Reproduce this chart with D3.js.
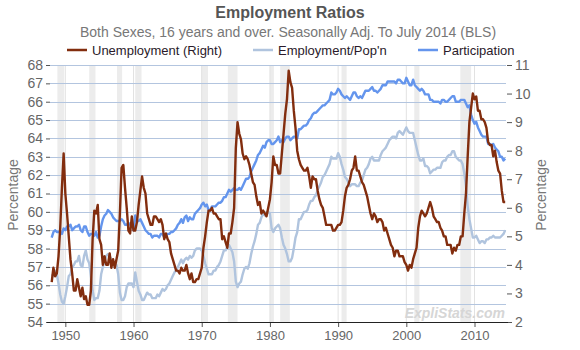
<!DOCTYPE html>
<html><head><meta charset="utf-8">
<script src="https://cdn.jsdelivr.net/npm/d3@7"></script>
<style>body{margin:0;background:#fff}svg{display:block}text{font-family:Arial,"Liberation Sans",sans-serif}</style>
</head><body>
<svg id="chart" width="580" height="350"></svg>
<script>
// ---- Data (quarterly samples: Jan, Apr, Jul, Oct; 1948 Q1 .. 2014 Q3) ----
const startYear = 1948;
const unemployment = [
3.4,3.9,3.6,3.7, 4.3,5.3,6.7,7.9, 6.5,5.8,5.0,4.2, 3.7,3.1,3.1,3.5, 3.2,2.9,3.2,2.8,
2.9,2.6,2.6,3.1, 4.9,5.9,5.8,6.1, 4.9,4.7,4.0,4.3, 4.0,4.0,4.4,3.9, 4.2,3.9,4.2,4.5,
5.8,7.4,7.5,6.7, 6.0,5.2,5.1,5.7, 5.2,5.2,5.5,6.1, 6.6,7.1,6.7,6.5, 5.8,5.6,5.4,5.4,
5.7,5.7,5.6,5.5, 5.6,5.4,4.9,5.1, 4.9,4.8,4.4,4.2, 4.0,3.8,3.8,3.7, 3.9,3.8,3.8,4.0,
3.7,3.5,3.7,3.4, 3.4,3.5,3.5,3.7, 3.9,4.6,5.0,5.5, 5.9,5.9,6.0,5.8, 5.8,5.7,5.6,5.6,
4.9,5.0,4.8,4.6, 5.1,5.1,5.5,6.0, 8.1,9.0,8.6,8.4, 7.9,7.7,7.8,7.7, 7.5,7.2,6.9,6.8,
6.4,6.1,6.2,5.8, 5.9,5.8,5.7,6.0, 6.3,6.9,7.8,7.5, 7.5,7.2,7.2,7.9, 8.6,9.3,9.8,10.8,
10.4,10.2,9.4,8.8, 8.0,7.7,7.5,7.4, 7.3,7.3,7.4,7.1, 6.7,7.1,7.0,7.0, 6.6,6.3,6.1,6.0,
5.7,5.4,5.4,5.4, 5.4,5.2,5.2,5.3, 5.4,5.4,5.5,5.9, 6.4,6.7,6.8,7.0, 7.3,7.4,7.8,7.3,
7.3,7.1,6.9,6.8, 6.6,6.4,6.1,5.8, 5.6,5.8,5.7,5.5, 5.6,5.6,5.5,5.2, 5.3,5.1,4.9,4.7,
4.6,4.3,4.5,4.5, 4.3,4.3,4.3,4.1, 4.0,3.8,4.0,3.9, 4.2,4.4,4.6,5.3, 5.7,5.9,5.8,5.7,
5.8,6.0,6.2,6.0, 5.7,5.6,5.5,5.5, 5.3,5.2,5.0,5.0, 4.7,4.7,4.7,4.4, 4.6,4.5,4.7,4.7,
5.0,5.0,5.8,6.5, 7.8,9.0,9.5,10.0, 9.8,9.9,9.4,9.4, 9.1,9.1,9.0,8.8, 8.3,8.2,8.2,7.8,
8.0,7.6,7.3,7.2, 6.6,6.2,6.2];
const employmentPop = [
56.6,56.5,56.8,56.6, 56.1,55.5,55.1,55.0, 55.4,55.9,56.5,56.6, 57.0,57.1,57.3,57.3, 57.6,57.1,57.0,57.6,
57.9,57.4,57.2,56.5, 55.7,55.2,55.3,55.3, 55.7,56.6,57.0,57.3, 57.6,57.7,57.6,57.4, 57.3,57.2,57.1,56.6,
55.6,55.2,55.2,55.4, 55.9,56.1,56.1,56.1, 55.9,56.7,56.2,55.7, 55.5,55.2,55.2,55.4, 55.6,55.5,55.5,55.3,
55.3,55.3,55.5,55.4, 55.6,55.8,55.7,55.8, 56.0,56.1,56.3,56.5, 56.7,56.8,57.0,57.2, 57.4,57.2,57.4,57.5,
57.4,57.6,57.5,57.6, 57.9,58.0,58.0,58.0, 57.9,57.6,57.2,56.9, 56.6,56.6,56.6,56.8, 56.8,57.0,57.1,57.3,
57.6,57.9,57.9,58.1, 58.2,58.0,57.8,57.3, 56.2,55.9,56.1,56.2, 56.6,56.9,57.0,56.9, 57.2,57.7,58.1,58.4,
58.8,59.3,59.4,59.7, 59.9,59.8,60.0,60.0, 59.9,59.1,58.9,59.1, 59.2,59.3,59.1,58.6, 58.2,58.0,57.7,57.3,
57.3,57.5,58.0,58.6, 58.9,59.6,59.6,59.8, 60.0,60.0,60.1,60.4, 60.6,60.6,60.8,60.9, 61.2,61.4,61.6,61.9,
62.0,62.2,62.4,62.6, 63.0,62.9,62.9,62.9, 63.2,63.0,62.6,62.3, 61.9,61.8,61.6,61.4, 61.5,61.5,61.5,61.4,
61.4,61.6,61.7,62.0, 62.3,62.4,62.6,62.9, 63.0,62.8,62.8,62.8, 62.8,63.1,63.3,63.4, 63.5,63.7,63.9,64.0,
64.1,64.1,64.0,64.3, 64.4,64.3,64.2,64.4, 64.6,64.4,64.3,64.3, 64.3,63.9,63.5,63.1, 62.8,62.8,62.9,62.5,
62.5,62.4,62.1,62.2, 62.3,62.3,62.4,62.4, 62.4,62.7,62.8,62.8, 63.0,63.1,63.1,63.3, 63.3,63.0,62.9,62.8,
62.8,62.6,62.1,61.4, 60.3,59.6,59.1,58.6, 58.6,58.7,58.5,58.3, 58.4,58.4,58.3,58.5, 58.5,58.6,58.6,58.7,
58.6,58.6,58.6,58.6, 58.7,58.8,59.0];
const participation = [
58.6,58.9,59.0,58.9, 58.9,58.9,58.8,59.1, 59.0,59.2,59.2,59.3, 59.0,59.1,59.2,59.2, 59.3,59.0,58.9,59.2,
59.2,58.9,58.7,58.8, 58.8,58.7,58.9,58.6, 58.7,59.2,59.6,59.8, 59.9,60.1,60.0,59.9, 59.7,59.6,59.5,59.5,
59.5,59.6,59.5,59.3, 59.3,59.4,59.3,59.4, 59.0,59.8,59.5,59.5, 59.6,59.4,59.2,59.0, 58.9,58.8,58.8,58.6,
58.7,58.7,58.7,58.6, 58.8,58.8,58.6,58.7, 58.8,58.8,58.9,58.9, 59.0,59.1,59.3,59.4, 59.6,59.4,59.7,59.8,
59.5,59.7,59.6,59.6, 59.9,60.0,60.1,60.2, 60.4,60.5,60.3,60.4, 60.1,60.1,60.3,60.3, 60.3,60.4,60.5,60.5,
60.6,60.8,60.8,61.0, 61.2,61.1,61.2,61.3, 61.2,61.2,61.3,61.2, 61.4,61.6,61.8,61.8, 61.9,62.2,62.4,62.6,
62.8,63.1,63.2,63.4, 63.6,63.5,63.8,63.9, 63.9,63.7,63.7,63.8, 63.9,64.1,63.8,63.9, 63.8,64.0,64.1,64.1,
63.9,64.0,64.1,64.1, 64.0,64.5,64.5,64.6, 64.7,64.7,64.8,65.0, 65.1,65.3,65.4,65.4, 65.5,65.6,65.7,65.8,
65.8,65.9,66.0,66.1, 66.5,66.4,66.4,66.5, 66.7,66.6,66.4,66.3, 66.2,66.3,66.2,66.1, 66.3,66.5,66.5,66.3,
66.2,66.3,66.2,66.4, 66.6,66.6,66.6,66.7, 66.8,66.6,66.6,66.5, 66.6,66.7,66.9,66.9, 66.9,67.1,67.1,67.1,
67.1,67.1,67.0,67.2, 67.2,67.1,67.0,67.0, 67.3,67.1,66.9,66.9, 67.2,66.9,66.8,66.7, 66.6,66.7,66.6,66.4,
66.4,66.4,66.1,66.1, 66.0,66.0,66.0,66.0, 65.9,66.1,66.1,66.0, 66.0,66.1,66.2,66.3, 66.3,66.0,66.0,66.0,
66.1,66.1,66.1,65.9, 65.7,65.8,65.3,65.0, 64.8,64.9,64.6,64.4, 64.2,64.1,64.1,64.1, 63.7,63.7,63.6,63.7,
63.5,63.4,63.3,63.0, 63.0,62.8,62.9];
// NBER recessions [start, end] in decimal years
const recessions = [[1948.83,1949.83],[1953.5,1954.42],[1957.58,1958.33],[1960.25,1961.17],
  [1969.92,1970.92],[1973.83,1975.25],[1980.0,1980.58],[1981.5,1982.92],[1990.5,1991.25],
  [2001.17,2001.92],[2007.92,2009.5]];
const xTicks = [1950,1960,1970,1980,1990,2000,2010];
const leftTicks = d3.range(54, 69);
const rightTicks = d3.range(2, 12);
const seriesNames = ["Unemployment (Right)", "Employment/Pop'n", "Participation"];
const seriesColors = ["#822d0e", "#b0c4de", "#6495ed"];

// ---- Layout ----
const svg = d3.select("#chart");
const L = 50, R = 506, T = 65, B = 322;
const x = d3.scaleLinear().domain([1948, 2014.5]).range([51.7, 505.2]);
const yL = d3.scaleLinear().domain([54, 68]).range([B, T]);
const yR = d3.scaleLinear().domain([2, 11]).range([B, T]);
const dates = unemployment.map((d, i) => startYear + i / 4);

// recession bands
svg.append("g").selectAll("rect").data(recessions).join("rect")
  .attr("x", d => x(d[0])).attr("width", d => x(d[1]) - x(d[0]))
  .attr("y", T).attr("height", B - T).attr("fill", "#ececec");

// vertical grid
svg.append("g").selectAll("line").data(xTicks).join("line")
  .attr("x1", d => x(d)).attr("x2", d => x(d)).attr("y1", T).attr("y2", B)
  .attr("stroke", "#e2e2e2").attr("stroke-width", 1);

// horizontal grid
svg.append("g").selectAll("line").data(leftTicks.filter(v => v > 54)).join("line")
  .attr("x1", L).attr("x2", R).attr("y1", d => Math.round(yL(d)) + 0.5).attr("y2", d => Math.round(yL(d)) + 0.5)
  .attr("stroke", "#b3c5df").attr("stroke-width", 1.2);

// watermark
svg.append("text").attr("x", 505).attr("y", 318).attr("text-anchor", "end")
  .attr("font-size", 14).attr("font-weight", "bold").attr("font-style", "italic")
  .attr("fill", "#d6d6d6").text("ExpliStats.com");

// lines
const lineL = vals => d3.line().x((d, i) => x(dates[i])).y(d => yL(d))(vals);
const lineR = vals => d3.line().x((d, i) => x(dates[i])).y(d => yR(d))(vals);
svg.append("path").attr("d", lineL(employmentPop)).attr("fill", "none")
  .attr("stroke", seriesColors[1]).attr("stroke-width", 2.4).attr("stroke-linejoin", "round");
svg.append("path").attr("d", lineL(participation)).attr("fill", "none")
  .attr("stroke", seriesColors[2]).attr("stroke-width", 2.4).attr("stroke-linejoin", "round");
svg.append("path").attr("d", lineR(unemployment)).attr("fill", "none")
  .attr("stroke", seriesColors[0]).attr("stroke-width", 2.4).attr("stroke-linejoin", "round");

// axes
const tickStyle = g => {
  g.selectAll(".tick line").attr("stroke", "#555");
  g.selectAll(".tick text").attr("fill", "#666").attr("font-size", 14)
    .attr("font-family", "Arial, 'Liberation Sans', sans-serif");
};
svg.append("g").attr("transform", `translate(${L},0)`)
  .call(d3.axisLeft(yL).tickValues(leftTicks).tickSize(4).tickPadding(3).tickFormat(d3.format("d")))
  .call(g => g.select(".domain").remove()).call(tickStyle);
svg.append("g").attr("transform", `translate(${R + 1},0)`)
  .call(d3.axisRight(yR).tickValues(rightTicks).tickSize(5).tickPadding(3).tickFormat(d3.format("d")))
  .call(g => g.select(".domain").remove()).call(tickStyle);
svg.append("g").attr("transform", `translate(0,${B})`)
  .call(d3.axisBottom(x).tickValues(xTicks).tickSize(5).tickPadding(4).tickFormat(d3.format("d")))
  .call(g => g.select(".domain").remove()).call(tickStyle)
  .call(g => g.selectAll(".tick text").attr("font-size", 13));
svg.append("line").attr("x1", 47).attr("x2", 508).attr("y1", B + 0.5).attr("y2", B + 0.5)
  .attr("stroke", "#222").attr("stroke-width", 1.2);

// axis titles
svg.append("text").attr("transform", "translate(18,195) rotate(-90)").attr("text-anchor", "middle")
  .attr("font-size", 14).attr("fill", "#777").text("Percentage");
svg.append("text").attr("transform", "translate(546,195) rotate(-90)").attr("text-anchor", "middle")
  .attr("font-size", 14).attr("fill", "#777").text("Percentage");

// titles
svg.append("text").attr("x", 290).attr("y", 18).attr("text-anchor", "middle")
  .attr("font-size", 16).attr("font-weight", "bold").attr("fill", "#555").text("Employment Ratios");
svg.append("text").attr("x", 288).attr("y", 37).attr("text-anchor", "middle")
  .attr("font-size", 14).attr("fill", "#777")
  .text("Both Sexes, 16 years and over. Seasonally Adj. To July 2014 (BLS)");

// legend
const legendX = [67, 253, 418];
const lg = svg.append("g").selectAll("g").data(seriesNames).join("g")
  .attr("transform", (d, i) => `translate(${legendX[i]},50)`);
lg.append("line").attr("x1", 0).attr("x2", 20).attr("y1", 0).attr("y2", 0)
  .attr("stroke", (d, i) => seriesColors[i]).attr("stroke-width", 2.5);
lg.append("text").attr("x", 25).attr("y", 4.5).attr("font-size", 13).attr("fill", "#2a1a2a").text(d => d);
</script>
</body></html>
